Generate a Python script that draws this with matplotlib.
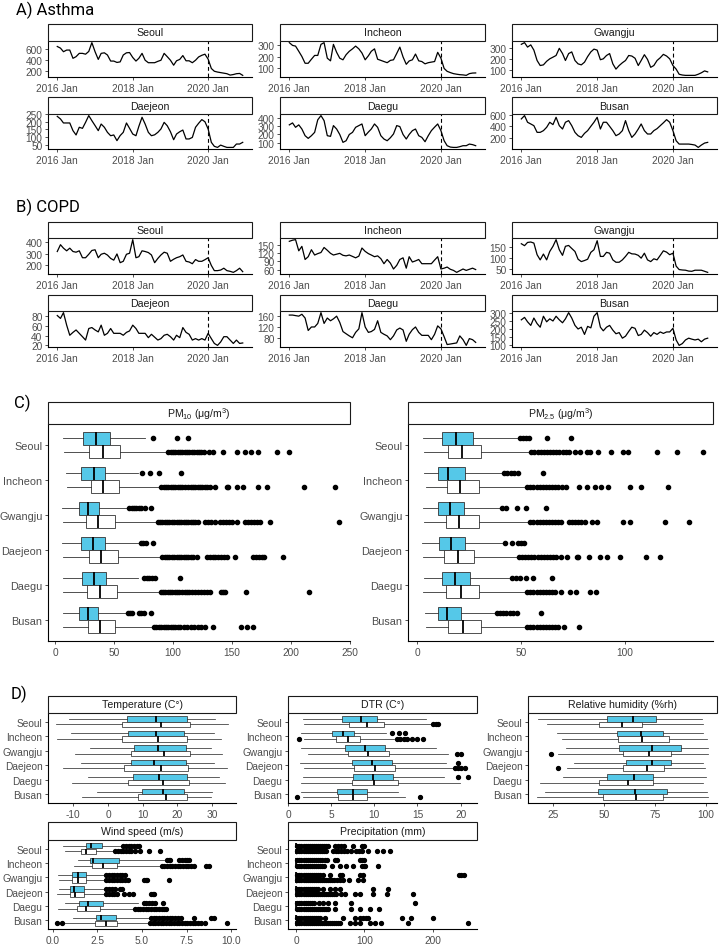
import matplotlib
matplotlib.use('Agg')
import matplotlib.pyplot as plt
import matplotlib.dates as mdates
import numpy as np
import pandas as pd
from matplotlib.patches import Rectangle

plt.rcParams['font.family'] = ['Liberation Sans', 'DejaVu Sans']
plt.rcParams['mathtext.default'] = 'regular'

# ---------------- DATA ----------------
cities = ['Seoul', 'Incheon', 'Gwangju', 'Daejeon', 'Daegu', 'Busan']
months = pd.date_range('2016-01-01', periods=60, freq='MS')
covid_start = pd.Timestamp('2020-01-01')
date_ticks = [pd.Timestamp('2016-01-01'), pd.Timestamp('2018-01-01'), pd.Timestamp('2020-01-01')]

asthma_seoul = [650,620,555,585,585,435,465,525,525,510,560,720,555,415,525,535,495,385,385,360,
                370,495,535,540,450,385,435,525,400,355,355,355,380,400,525,465,400,310,390,415,
                485,390,390,355,400,460,490,510,420,250,200,185,175,165,155,130,140,155,160,125]
asthma_incheon = [324,300,294,249,204,145,145,180,213,213,309,324,189,166,309,240,189,175,219,249,
                  270,294,270,234,175,210,249,270,180,170,160,150,170,175,230,285,200,136,165,175,
                  225,166,160,140,150,155,160,240,189,100,75,64,55,50,46,44,40,55,60,61]
asthma_gwangju = [330,345,305,325,278,185,140,146,178,200,215,230,294,247,185,247,262,185,155,146,
                  170,220,262,287,278,192,200,230,247,155,108,140,165,185,230,225,205,140,185,237,
                  195,124,140,185,210,240,225,200,140,108,62,55,52,52,52,52,62,75,92,83]
asthma_daejeon = [235,218,192,192,192,142,114,164,157,196,240,207,175,142,185,164,131,109,114,77,
                  110,131,192,157,120,109,170,229,185,131,109,115,131,153,196,174,135,83,120,135,
                  146,88,88,98,164,190,214,200,153,66,40,33,48,40,33,33,33,55,55,66]
asthma_daegu = [318,342,288,318,267,185,152,185,226,380,432,370,185,177,309,267,200,103,123,200,
                226,288,309,329,185,230,267,329,288,185,144,123,160,206,309,297,200,144,200,247,
                267,185,164,111,185,247,290,329,247,123,62,45,41,41,50,62,62,82,75,62]
asthma_busan = [526,583,469,440,411,297,297,326,383,469,429,554,411,354,469,497,411,297,240,211,
                280,326,400,469,554,354,469,469,400,326,240,269,326,497,326,211,269,354,440,326,
                269,269,326,360,411,460,514,469,326,154,97,97,97,97,90,80,40,80,114,126]

copd_seoul = [321,380,350,327,350,321,315,327,267,267,297,330,336,267,297,306,290,261,246,300,
              224,236,297,306,424,267,276,327,321,312,291,224,261,291,315,306,236,254,267,276,
              291,236,230,215,251,236,236,250,267,200,155,155,160,176,155,149,140,155,176,146]
copd_incheon = [162,166,168,128,144,97,107,132,113,118,122,140,130,119,113,116,119,112,110,113,
                108,103,109,138,126,118,113,107,110,100,82,97,84,63,76,97,103,66,107,88,
                92,97,82,82,82,82,95,107,63,66,70,62,58,51,57,63,58,62,66,61]
copd_gwangju = [167,158,173,175,170,116,92,119,92,131,155,186,139,113,155,159,145,131,95,84,
                89,95,127,139,181,108,108,127,123,92,81,81,92,108,127,120,119,113,100,123,
                92,84,97,92,113,134,128,116,123,63,47,45,44,40,39,44,44,44,39,34]
copd_daejeon = [82,76,88,62,41,47,52,45,38,31,55,57,52,48,62,41,45,55,45,45,
                45,41,47,50,62,55,45,45,45,36,43,37,31,34,41,43,38,31,41,36,
                57,47,43,31,34,31,34,31,45,34,24,20,27,38,38,31,24,31,24,25]
copd_daegu = [164,164,162,160,167,153,107,120,120,133,173,133,153,143,150,160,137,103,95,87,
              80,100,113,173,120,100,103,111,143,100,93,87,73,87,109,116,109,67,93,110,
              120,100,89,89,89,73,93,124,113,84,55,57,59,61,87,73,52,77,73,63]
copd_busan = [256,271,244,222,267,233,211,278,244,262,249,278,256,238,262,300,267,222,200,211,
              167,216,207,278,300,211,189,211,222,193,171,178,144,156,185,211,204,160,167,193,
              178,156,178,167,182,173,182,182,204,133,100,111,133,144,138,133,138,122,138,144]

asthma_yticks = [[200, 400, 600], [100, 200, 300], [100, 200, 300],
                 [50, 100, 150, 200, 250], [100, 200, 300, 400], [200, 400, 600]]
copd_yticks = [[200, 300, 400], [60, 90, 120, 150], [50, 100, 150],
               [20, 40, 60, 80], [80, 120, 160], [100, 150, 200, 250, 300]]

# box stats: (lower whisker, Q1, median, Q3, upper whisker) per city
pm10_blue = [(6.4, 23.8, 34.4, 47, 76), (9.2, 22.4, 33.4, 42.8, 70.7), (6.2, 20.2, 28, 37.2, 62),
             (5.6, 21.8, 32.2, 42.2, 71.3), (6.4, 22.9, 33, 43.4, 70), (6.4, 20.5, 28.4, 36.7, 61)]
pm10_white = [(7.5, 28.6, 40.6, 55.4, 95), (10.4, 30.2, 41, 54, 89.5), (7, 26.6, 36.7, 51.2, 86.5),
              (7, 28.6, 39.2, 53.7, 90.5), (7, 27.4, 38.3, 52.3, 89), (7, 28, 37.8, 51, 83.5)]
pm10_blue_out = [[83, 103.5, 113], [74, 80.5, 88, 107], [63, 65, 67, 69, 71, 73, 76, 81],
                 [73, 75, 77, 83], [75.5, 78, 80, 82, 85, 106], [62, 63.5, 65, 71, 73, 75.5, 81]]
pm10_white_out = [
    [96, 98, 100, 102, 104, 106, 108, 110, 112, 114, 116, 118, 120, 122, 124, 126, 130.5, 134, 142.5, 154, 161, 166.5, 172, 188.5, 198],
    [90, 92, 94, 96, 98, 100, 102, 104, 106, 108, 110, 113, 115, 117, 119, 121, 123, 125, 127, 129, 131, 135.5, 145.5, 147, 154.5, 159.5, 172, 180, 211, 237],
    [87, 89, 91, 93, 95, 97, 99, 101, 103, 105, 107, 109, 111, 113, 115, 117, 119, 121.5, 127, 129.5, 132, 135.5, 140, 142.5, 145, 147.5, 150, 154.5, 161, 163.5, 166, 168.5, 171, 173.5, 182, 241],
    [91, 93, 95, 97, 99, 101, 103, 105, 107, 109, 111, 113, 115, 117, 120, 128.5, 131, 133.5, 136, 138.5, 141, 143.5, 145.5, 152.5, 168, 170.5, 173, 175.5, 177.5, 193],
    [89.5, 91.5, 93.5, 95.5, 97.5, 99.5, 101.5, 103.5, 105.5, 107.5, 110, 112, 114, 116.5, 119, 121.5, 124, 126.5, 129, 131, 140.5, 142, 144, 161.5, 215],
    [84, 86, 88, 90, 92, 94, 96, 98, 100, 102, 104, 106, 109, 112, 115, 118, 121, 124, 127.5, 134, 158, 163, 168]]

pm25_blue = [(2.7, 11.9, 18.8, 27.1, 48.5), (3.4, 10.3, 15.1, 23.1, 41.5), (2.7, 10.3, 15.9, 22.6, 39.9),
             (2.6, 10.4, 16.2, 23.3, 41.5), (3.4, 12, 18.3, 25.5, 44.4), (3.9, 10, 14.6, 21.2, 37.8)]
pm25_white = [(3.4, 14.7, 21.8, 30.8, 54.2), (4.2, 14.3, 20.7, 29.8, 52.4), (3.4, 13.8, 20.2, 30, 54),
              (3, 13.1, 19.5, 27.5, 48.5), (3, 13.9, 21.1, 29.8, 52.8), (4.4, 15, 22, 30.6, 52.8)]
pm25_blue_out = [[49.5, 51, 52.5, 54, 62.5, 74], [42, 43.5, 45, 46.5, 48.5, 60.5], [41, 43, 48, 52.5, 62],
                 [42.5, 45.5, 48.5, 50, 51.5], [45.5, 47.5, 49.5, 52.5, 56, 65], [38.5, 40, 41.5, 43, 44.5, 46, 48, 59.5]]
pm25_white_out = [
    [55, 56.5, 58, 59.5, 61, 62.5, 64, 65.5, 67, 68.5, 70, 71.5, 73, 76, 78.5, 81.5, 83, 87, 93.5, 99, 101.5, 115.5, 125, 137.5],
    [53, 54.5, 56, 57.5, 59, 60.5, 62, 63.5, 65, 66.5, 68, 69.5, 71.5, 78, 81.5, 85.5, 88.5, 92, 102.5, 107.5, 120.5],
    [54.5, 56, 57.5, 59, 60.5, 62, 63.5, 65, 66.5, 68, 69, 73, 74.5, 76, 77.5, 79, 81, 84, 86.5, 99, 102.5, 119, 131],
    [49, 50.5, 52, 53.5, 55, 56.5, 58, 59.5, 61, 62.5, 64, 65.5, 67, 69, 72, 77, 77.5, 82.5, 88, 91.5, 97.5, 110, 117],
    [53, 54.5, 56, 57.5, 59, 60.5, 62, 63.5, 65, 66.5, 69, 73.5, 76.5, 83, 86],
    [53, 54.5, 56, 57.5, 59, 60.5, 62, 63.5, 65, 66.5, 68, 70.5, 78]]

temp_blue = [(-11.2, 5.6, 13.8, 22.7, 30.8), (-10.8, 5.7, 13.8, 22, 30.6), (-5.2, 7.5, 14.5, 22.4, 29.7),
             (-7.9, 6.5, 13.3, 22.5, 30.6), (-5.7, 7.1, 14.8, 22.7, 32), (-3.3, 9.7, 15.9, 22, 30.1)]
temp_white = [(-15, 3.9, 15.2, 23.6, 34.5), (-14.6, 4.1, 14.3, 22.7, 32.5), (-9.5, 6.6, 16.1, 23.6, 32.8),
              (-12.9, 4.7, 15.3, 23.1, 34.2), (-10.5, 5.9, 15.8, 23.4, 33.7), (-7.6, 8.7, 16.6, 22.9, 29.6)]
temp_blue_out = [[], [], [], [], [], []]
temp_white_out = [[], [], [], [], [], []]

dtr_blue = [(1.7, 6.3, 8.5, 10.3, 16), (1.5, 5.1, 6.4, 7.7, 11.3), (1.5, 6.6, 8.9, 11.2, 17.2),
            (1.4, 7.4, 9.7, 12.1, 18.3), (1.7, 7.5, 9.8, 12.2, 18.1), (1.5, 5.7, 7.5, 9.1, 12.7)]
dtr_white = [(1.9, 7.1, 9.1, 11.1, 16.6), (1.9, 5.6, 6.9, 8.3, 12.3), (2.3, 7, 9.3, 11.7, 18.5),
             (1.9, 7.7, 10.1, 12.4, 19.1), (1.5, 7.4, 10, 12.8, 19.9), (1.7, 5.8, 7.5, 9.1, 13.5)]
dtr_blue_out = [[], [12.1, 12.9, 13.6], [], [19.7], [19.7, 20.9], []]
dtr_white_out = [[16.8, 17.1, 17.4], [1.3, 12.6, 13.0, 13.4, 13.8, 14.4, 15.0, 15.6], [19.6, 20.1],
                 [19.3, 19.7, 20.1, 20.5], [], [1.1, 15.3]]

rh_blue = [(17.8, 51.6, 64.4, 75.5, 97.9), (26.8, 56.2, 68, 79.1, 98.7), (31.4, 57.5, 73.4, 87.6, 100.8),
           (35.5, 60.8, 73.4, 82.7, 98.7), (30, 51.6, 64.9, 74.2, 99.8), (21.1, 46.9, 65.2, 80.7, 100.3)]
rh_white = [(21.9, 47.5, 58.7, 68.8, 98.4), (29.3, 56.7, 68.5, 82, 100.3), (27.3, 59.5, 72.1, 82.7, 100.8),
            (32, 59.2, 70.9, 79.6, 99.5), (18.6, 47.7, 61.9, 74.2, 98.4), (17, 49.7, 65.5, 78.8, 101)]
rh_blue_out = [[], [], [], [], [], []]
rh_white_out = [[], [], [23.9], [27.6], [], []]

wind_blue = [(0.54, 1.85, 2.13, 2.74, 3.9), (1.39, 2.08, 2.27, 3.73, 6.25), (0.3, 1.09, 1.39, 1.85, 2.92),
             (0.34, 0.96, 1.2, 1.74, 2.92), (0.67, 1.46, 1.98, 2.83, 4.76), (1.14, 2.4, 2.7, 3.54, 5.45)]
wind_white = [(0.67, 1.55, 1.85, 2.4, 3.45), (1.18, 2.17, 2.79, 3.58, 6.05), (0.36, 1.05, 1.39, 1.85, 2.95),
              (0.25, 0.96, 1.24, 1.76, 2.95), (0.3, 1.33, 1.84, 2.64, 4.55), (0.6, 2.36, 2.98, 3.58, 5.4)]
wind_blue_out = [[3.95, 4.1, 4.25, 4.4, 4.55, 4.7, 4.85],
                 [6.4, 6.5, 6.6, 7.1, 7.25, 7.4, 7.55, 7.65],
                 [3.0, 3.15, 3.3, 3.45, 3.6, 3.75, 3.9, 4.05],
                 [3.0, 3.15, 3.3, 3.5, 3.75, 3.9],
                 [5.1, 5.25, 5.4, 5.55, 5.75, 6.2],
                 [5.5, 5.65, 5.8, 5.95, 6.1, 6.25, 6.4, 6.55, 6.7, 6.85, 7.0, 7.2, 7.9, 8.9, 9.05]]
wind_white_out = [[3.5, 3.65, 3.8, 3.95, 4.1, 4.25, 4.4, 4.6, 4.9, 5.4, 6.0],
                  [6.1, 6.25, 6.4, 6.55, 6.7, 6.85, 7.0, 7.15, 7.3, 7.45, 7.6, 7.75, 7.9, 8.6, 8.75],
                  [3.0, 3.15, 3.3, 3.45, 3.6, 3.75, 3.9, 4.05, 4.2, 5.1, 5.2, 5.3, 6.5],
                  [3.0, 3.15, 3.3, 3.45, 3.6, 4.0, 4.25, 4.5, 5.5, 5.6, 5.7],
                  [4.6, 4.75, 4.9, 5.05, 5.2, 5.35, 5.5, 5.65, 5.8, 5.95, 6.1, 6.25, 6.35],
                  [0.24, 0.49, 5.45, 5.6, 5.75, 5.9, 6.05, 6.2, 6.35, 6.5, 6.65, 6.8, 6.95, 7.1, 7.25, 7.4, 7.55, 7.7, 7.85, 8.0, 8.15, 8.3, 8.55, 9.8]]

prec_blue = [(0, 0, 0, 0.5, 1.2)] * 6
prec_white = [(0, 0, 0, 0.5, 1.2)] * 6
prec_blue_out = [
    [2, 5, 8, 11, 14, 17, 20, 23, 26, 29, 32, 35, 38, 41, 44, 47, 57, 62, 66, 70, 84, 96, 99],
    [2, 5, 8, 11, 14, 17, 20, 23, 26, 29, 32, 35, 38, 42, 46, 57, 60, 94, 97, 100],
    [2, 5, 8, 11, 14, 17, 20, 23, 26, 29, 32, 35, 40, 50, 64, 68, 94, 98, 238, 242, 246],
    [2, 5, 8, 11, 14, 17, 20, 23, 26, 29, 32, 40, 50, 57, 64, 113, 134],
    [2, 5, 8, 11, 14, 17, 20, 23, 26, 33, 40, 47, 57, 81, 174],
    [2, 5, 8, 11, 14, 17, 20, 23, 26, 29, 32, 35, 42, 69, 86, 94, 98, 102, 106, 155, 169, 200]]
prec_white_out = [
    [2, 5, 8, 11, 14, 17, 20, 23, 26, 29, 32, 35, 38, 41, 44, 54, 58, 62, 66, 70, 74, 81, 88, 92, 96, 106, 118, 127, 137],
    [2, 5, 8, 11, 14, 17, 20, 23, 26, 29, 32, 35, 38, 41, 52, 64, 73, 84, 96, 99, 101, 120],
    [2, 5, 8, 11, 14, 17, 20, 23, 26, 29, 32, 35, 38, 41, 44, 47, 50, 53, 56, 60, 64, 69, 77, 91, 98],
    [2, 5, 8, 11, 14, 17, 20, 23, 26, 29, 32, 35, 38, 41, 44, 47, 50, 53, 56, 59, 66, 72, 86, 94, 113, 133, 171],
    [2, 5, 8, 11, 14, 17, 20, 23, 26, 29, 32, 35, 38, 41, 44, 47, 57, 81, 94, 108, 122],
    [2, 5, 8, 11, 14, 17, 20, 23, 26, 29, 32, 35, 38, 41, 44, 47, 50, 53, 56, 59, 62, 65, 79, 86, 94, 108, 116, 125, 164, 252]]

# ---------------- STYLE / LAYOUT ----------------
W, H = 719, 945
fig = plt.figure(figsize=(W / 100, H / 100), dpi=100)
BLUE = '#55C8E8'
EDGE = '#333333'
TICKC = '#4D4D4D'


def fx(px):
    return px / W


def fy(py):
    return 1 - py / H


def make_panel(x0, x1, s0, s1, yb, title, fs=7.6):
    ax = fig.add_axes([fx(x0), fy(yb), (x1 - x0) / W, (yb - s1) / H])
    fig.add_artist(Rectangle((fx(x0), fy(s1)), (x1 - x0) / W, (s1 - s0) / H,
                             transform=fig.transFigure, facecolor='white',
                             edgecolor='#1A1A1A', lw=0.8))
    fig.text(fx((x0 + x1) / 2), fy((s0 + s1) / 2), title, ha='center', va='center',
             fontsize=fs, color='#1A1A1A')
    for sp in ('top', 'right'):
        ax.spines[sp].set_visible(False)
    for sp in ('left', 'bottom'):
        ax.spines[sp].set_color('black')
        ax.spines[sp].set_linewidth(0.8)
    ax.tick_params(length=2.5, width=0.6, color=EDGE, labelsize=7.3,
                   labelcolor=TICKC, pad=1.5)
    ax.set_facecolor('none')
    return ax


def section_title(px, py, text):
    fig.text(fx(px), fy(py), text, ha='left', va='center', fontsize=12,
             family=['Roboto', 'DejaVu Sans'], color='black')


ts_cols = [(48, 252), (280, 485), (512, 717)]

asthma = [asthma_seoul, asthma_incheon, asthma_gwangju, asthma_daejeon, asthma_daegu, asthma_busan]
copd = [copd_seoul, copd_incheon, copd_gwangju, copd_daejeon, copd_daegu, copd_busan]


def ts_block(series, yticks, rows):
    for i, city in enumerate(cities):
        r, c = divmod(i, 3)
        s0, s1, yb = rows[r]
        x0, x1 = ts_cols[c]
        ax = make_panel(x0, x1, s0, s1, yb, city)
        ax.plot(months, series[i], color='black', lw=0.9)
        ax.axvline(covid_start, color='black', lw=0.8, ls=(0, (3.5, 2.5)))
        ax.margins(x=0.05, y=0.05)
        ax.set_xticks(date_ticks)
        ax.xaxis.set_major_formatter(mdates.DateFormatter('%Y %b'))
        ax.set_yticks(yticks[i])


section_title(16, 10, 'A) Asthma')
ts_block(asthma, asthma_yticks, [(25, 42, 78), (98, 115, 150)])
section_title(16, 207, 'B) COPD')
ts_block(copd, copd_yticks, [(223, 239, 275), (296, 312, 348)])


def box_panel(ax, blue, white, blue_out, white_out, xlim, xticks, xticklabels, ms=2.8, lw=0.6):
    pos = np.arange(len(cities))
    for stats5, outs, off, col in ((blue, blue_out, -0.19, BLUE), (white, white_out, 0.19, 'white')):
        st = [dict(whislo=s[0], q1=s[1], med=s[2], q3=s[3], whishi=s[4], fliers=f)
              for s, f in zip(stats5, outs)]
        ax.bxp(st, positions=pos + off, widths=0.36, orientation='horizontal',
               patch_artist=True, showcaps=False, manage_ticks=False,
               boxprops=dict(facecolor=col, edgecolor=EDGE, lw=lw),
               medianprops=dict(color='black', lw=1.3, solid_capstyle='butt'),
               whiskerprops=dict(color=EDGE, lw=lw),
               flierprops=dict(marker='o', markerfacecolor='black', markeredgecolor='black',
                               markersize=ms, ls='none'))
    ax.set_yticks(pos)
    ax.set_yticklabels(cities)
    ax.set_ylim(len(cities) - 0.4, -0.6)
    ax.set_xlim(*xlim)
    ax.set_xticks(xticks)
    ax.set_xticklabels(xticklabels)


# C) PM
fig.text(fx(14), fy(403), 'C)', ha='left', va='center', fontsize=12,
         family=['Roboto', 'DejaVu Sans'])
ax = make_panel(48, 350, 403, 425, 642, r'PM$_{10}$ ($\mu$g/m$^3$)')
box_panel(ax, pm10_blue, pm10_white, pm10_blue_out, pm10_white_out, (-5.9, 247.5),
          [0, 50, 100, 150, 200, 250], ['0', '50', '100', '150', '200', '250'], ms=3.0)
ax.tick_params(axis='y', labelsize=7.8)
ax = make_panel(408, 713, 403, 425, 642, r'PM$_{2.5}$ ($\mu$g/m$^3$)')
box_panel(ax, pm25_blue, pm25_white, pm25_blue_out, pm25_white_out, (-4.3, 142.3),
          [0, 50, 100], ['0', '50', '100'], ms=3.0)
ax.tick_params(axis='y', labelsize=7.8)

# D) meteorology
section_title(11, 694, 'D)')
ax = make_panel(48, 236, 697, 714, 804, 'Temperature (C°)')
box_panel(ax, temp_blue, temp_white, temp_blue_out, temp_white_out, (-17.3, 36.9),
          [-10, 0, 10, 20, 30], ['-10', '0', '10', '20', '30'], lw=0.55)
ax = make_panel(288, 477, 697, 714, 804, 'DTR (C°)')
box_panel(ax, dtr_blue, dtr_white, dtr_blue_out, dtr_white_out, (0.15, 21.9),
          [0, 5, 10, 15, 20], ['0', '5', '10', '15', '20'], lw=0.55)
ax = make_panel(528, 717, 697, 714, 804, 'Relative humidity (%rh)')
box_panel(ax, rh_blue, rh_white, rh_blue_out, rh_white_out, (12.7, 105.4),
          [25, 50, 75, 100], ['25', '50', '75', '100'], lw=0.55)
ax = make_panel(48, 236, 823, 841, 930, 'Wind speed (m/s)')
box_panel(ax, wind_blue, wind_white, wind_blue_out, wind_white_out, (-0.28, 10.28),
          [0, 2.5, 5, 7.5, 10], ['0.0', '2.5', '5.0', '7.5', '10.0'], lw=0.55)
ax = make_panel(288, 477, 823, 841, 930, 'Precipitation (mm)')
box_panel(ax, prec_blue, prec_white, prec_blue_out, prec_white_out, (-11.7, 265),
          [0, 100, 200], ['0', '100', '200'], lw=0.55)

fig.savefig('out.png', dpi=100)
